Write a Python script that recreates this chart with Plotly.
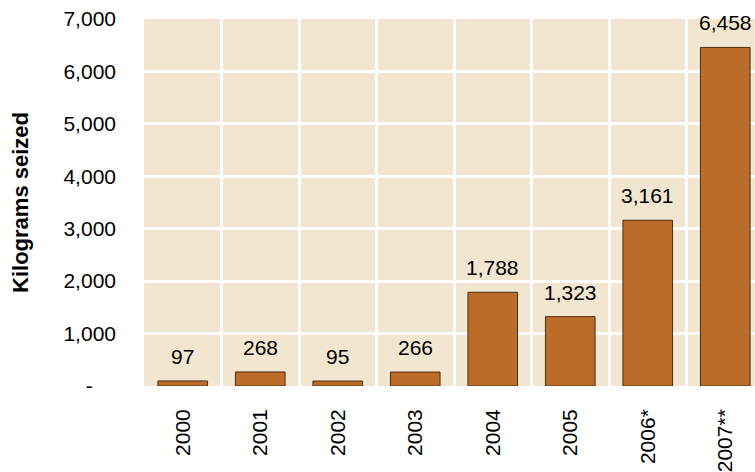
import plotly.graph_objects as go

# Data
years = ['2000', '2001', '2002', '2003', '2004', '2005', '2006*', '2007**']
kilos = [97, 268, 95, 266, 1788, 1323, 3161, 6458]
ytickvals = [0, 1000, 2000, 3000, 4000, 5000, 6000, 7000]
yticktext = ['-\u00a0\u00a0\u00a0\u00a0', '1,000', '2,000', '3,000', '4,000', '5,000', '6,000', '7,000']

fig = go.Figure()
fig.add_trace(go.Bar(x=years, y=kilos, width=0.64,
                     marker=dict(color='#BC6C29', line=dict(color='#4a2e12', width=1))))

# value labels above the bars (category index as x, numeric-looking names would be read as indices)
for i, v in enumerate(kilos):
    fig.add_annotation(x=i, y=v, text=f"{v:,}", showarrow=False, yanchor='bottom', yshift=11,
                       font=dict(size=21, color='black', family='Arial'))

# the plot area runs a little past the right edge of the window, as in the original
fig.update_layout(
    width=764, height=472,
    margin=dict(l=144, r=0, t=19, b=78),
    plot_bgcolor='#F3E6D0', paper_bgcolor='white',
    font=dict(family='Arial', size=21, color='black'),
    showlegend=False,
)
fig.update_xaxes(type='category', range=[-0.5, len(years) - 0.5], tickangle=-90, showgrid=True,
                 gridcolor='white', gridwidth=3, tickson='boundaries', ticks='', showline=False,
                 zeroline=False, ticklabelstandoff=18)
fig.update_yaxes(range=[0, 7000], tickvals=ytickvals, ticktext=yticktext, showgrid=True,
                 gridcolor='white', gridwidth=3, zeroline=False, ticks='', ticklabelstandoff=27,
                 ticklabeloverflow='allow',
                 title=dict(text='<b>Kilograms seized</b>', font=dict(size=22), standoff=28))

# drop the page margin and scrollbars so the figure sits at the window corner
fig.write_html("out.html", config={'displayModeBar': False},
               post_script="document.body.style.margin='0';document.body.style.overflow='hidden';")
